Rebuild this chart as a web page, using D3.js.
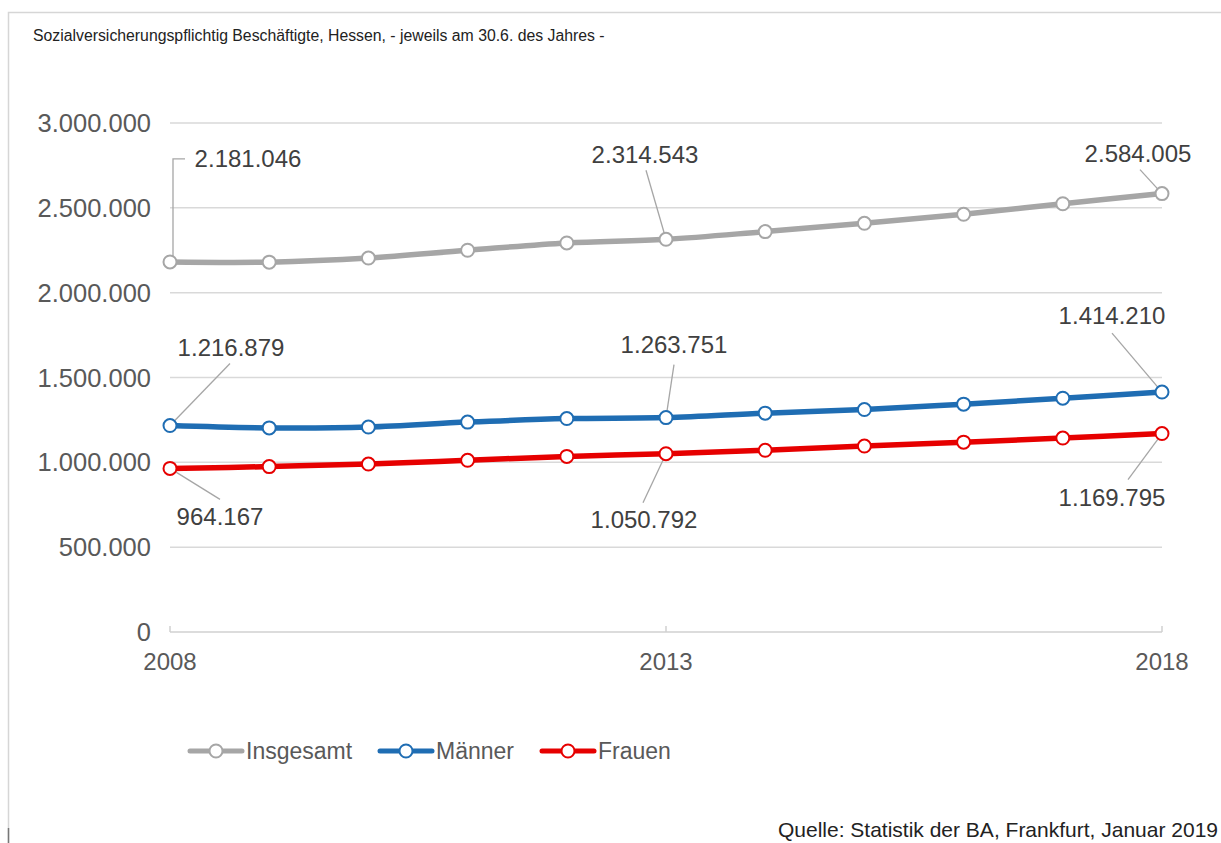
<html>
<head>
<meta charset="utf-8">
<script src="https://d3js.org/d3.v7.min.js"></script>
<style>
  body { margin: 0; background: #fff; }
  text { font-family: "Liberation Sans", Arial, sans-serif; }
  .grid line { stroke: #d9d9d9; stroke-width: 1.5px; }
  .tick-label { fill: #595959; font-size: 24px; }
  .y-label { font-size: 25.5px; }
  .data-label { fill: #404040; font-size: 24px; }
  .legend-label { fill: #595959; font-size: 23px; }
  .leader { stroke: #a6a6a6; stroke-width: 1.3px; fill: none; }
</style>
</head>
<body>
<svg id="chart" width="1221" height="843"></svg>
<script>
// values (30.6. of each year)
const years = [2008, 2009, 2010, 2011, 2012, 2013, 2014, 2015, 2016, 2017, 2018];
const insgesamt = [2181046, 2180000, 2204000, 2250000, 2293000, 2314543, 2360000, 2409000, 2462000, 2524000, 2584005];
const maenner = [1216879, 1203000, 1208000, 1237000, 1258000, 1263751, 1290000, 1311000, 1343000, 1378000, 1414210];
const frauen = [964167, 975000, 990000, 1012000, 1035000, 1050792, 1071000, 1096000, 1119000, 1143000, 1169795];
const seriesNames = ["Insgesamt", "Männer", "Frauen"];
const seriesColors = ["#a6a6a6", "#1f6db3", "#e60000"];
const yTicks = [0, 500000, 1000000, 1500000, 2000000, 2500000, 3000000];
const xTicks = [2008, 2013, 2018];

// which points carry a label (series index, year)
const labelled = [[0, 2008], [0, 2013], [0, 2018], [1, 2008], [1, 2013], [1, 2018], [2, 2008], [2, 2013], [2, 2018]];
// label placement in pixels relative to the point: text centre (tx, ty), leader end (lx, ly)
const labelLayout = [
  {tx: 78, ty: -103, elbow: true},
  {tx: -21, ty: -85, lx: -20, ly: -69},
  {tx: -24, ty: -40, lx: -22, ly: -24},
  {tx: 61, ty: -78, lx: 60, ly: -62},
  {tx: 8, ty: -73, lx: 8, ly: -53},
  {tx: -50, ty: -77, lx: -50, ly: -59},
  {tx: 50, ty: 48, lx: 50, ly: 31},
  {tx: -22, ty: 66, lx: -23, ly: 49},
  {tx: -50, ty: 64, lx: -34, ly: 46}
];

const allSeries = [insgesamt, maenner, frauen];
const fmt = d3.formatLocale({decimal: ",", thousands: ".", grouping: [3], currency: ["", "€"]}).format(",");

const svg = d3.select("#chart");

// outer frame
svg.append("path")
  .attr("d", "M8.5,843 V12.5 H1221")
  .attr("fill", "none").attr("stroke", "#d6d6d6").attr("stroke-width", 1.5);
svg.append("line").attr("x1", 8.5).attr("x2", 8.5).attr("y1", 828).attr("y2", 843)
  .attr("stroke", "#777").attr("stroke-width", 1.5);

svg.append("text")
  .attr("x", 33).attr("y", 41)
  .attr("fill", "#222").attr("font-size", 15.8)
  .text("Sozialversicherungspflichtig Beschäftigte, Hessen, - jeweils am 30.6. des Jahres -");

const x = d3.scaleLinear().domain([2008, 2018]).range([170, 1162]);
const y = d3.scaleLinear().domain([0, 3000000]).range([632, 123]);

// gridlines
svg.append("g").attr("class", "grid")
  .selectAll("line").data(yTicks.filter(d => d > 0)).join("line")
  .attr("x1", 170).attr("x2", 1162)
  .attr("y1", d => y(d)).attr("y2", d => y(d));

// x axis line and ticks
svg.append("line").attr("x1", 170).attr("x2", 1162).attr("y1", y(0)).attr("y2", y(0))
  .attr("stroke", "#d0d0d0").attr("stroke-width", 1.5);
svg.append("g").selectAll("line").data(xTicks).join("line")
  .attr("x1", d => x(d)).attr("x2", d => x(d))
  .attr("y1", y(0) - 6).attr("y2", y(0))
  .attr("stroke", "#d0d0d0").attr("stroke-width", 1.5);

svg.append("g").selectAll("text").data(yTicks).join("text")
  .attr("class", "tick-label y-label")
  .attr("x", 151).attr("y", d => y(d) + 9)
  .attr("text-anchor", "end")
  .text(d => fmt(d));

svg.append("g").selectAll("text").data(xTicks).join("text")
  .attr("class", "tick-label")
  .attr("x", d => x(d)).attr("y", 670)
  .attr("text-anchor", "middle")
  .text(d => d);

// lines
const line = d3.line()
  .x((d, i) => x(years[i]))
  .y(d => y(d))
  .curve(d3.curveCatmullRom.alpha(0.5));

allSeries.forEach((vals, s) => {
  svg.append("path")
    .datum(vals)
    .attr("d", line)
    .attr("fill", "none")
    .attr("stroke", seriesColors[s])
    .attr("stroke-width", 5.5)
    .attr("stroke-linecap", "round");
});

// leader lines
labelled.forEach(([s, year], k) => {
  const l = labelLayout[k];
  const px = x(year), py = y(allSeries[s][years.indexOf(year)]);
  if (l.elbow) {
    svg.append("path").attr("class", "leader")
      .attr("d", `M${px + 3},${py - 6} V${py + l.ty} H${px + 15}`);
  } else {
    svg.append("line").attr("class", "leader")
      .attr("x1", px).attr("y1", py).attr("x2", px + l.lx).attr("y2", py + l.ly);
  }
});

// markers
allSeries.forEach((vals, s) => {
  svg.append("g").selectAll("circle").data(vals).join("circle")
    .attr("cx", (d, i) => x(years[i]))
    .attr("cy", d => y(d))
    .attr("r", 6.5)
    .attr("fill", "#fff")
    .attr("stroke", seriesColors[s])
    .attr("stroke-width", 2);
});

// data labels
labelled.forEach(([s, year], k) => {
  const l = labelLayout[k];
  const val = allSeries[s][years.indexOf(year)];
  const px = x(year), py = y(val);
  svg.append("text").attr("class", "data-label")
    .attr("x", px + l.tx).attr("y", py + l.ty + 8.5)
    .attr("text-anchor", "middle")
    .text(fmt(val));
});

// legend
const legendX = [190, 380, 542];
seriesNames.forEach((name, s) => {
  const lx = legendX[s], ly = 751;
  svg.append("line").attr("x1", lx).attr("x2", lx + 52).attr("y1", ly).attr("y2", ly)
    .attr("stroke", seriesColors[s]).attr("stroke-width", 5).attr("stroke-linecap", "round");
  svg.append("circle").attr("cx", lx + 26).attr("cy", ly).attr("r", 6.5)
    .attr("fill", "#fff").attr("stroke", seriesColors[s]).attr("stroke-width", 2);
  svg.append("text").attr("class", "legend-label")
    .attr("x", lx + 56).attr("y", ly + 8)
    .text(name);
});

svg.append("text")
  .attr("x", 1218).attr("y", 837)
  .attr("text-anchor", "end")
  .attr("fill", "#222").attr("font-size", 21)
  .text("Quelle: Statistik der BA, Frankfurt, Januar 2019");
</script>
</body>
</html>
